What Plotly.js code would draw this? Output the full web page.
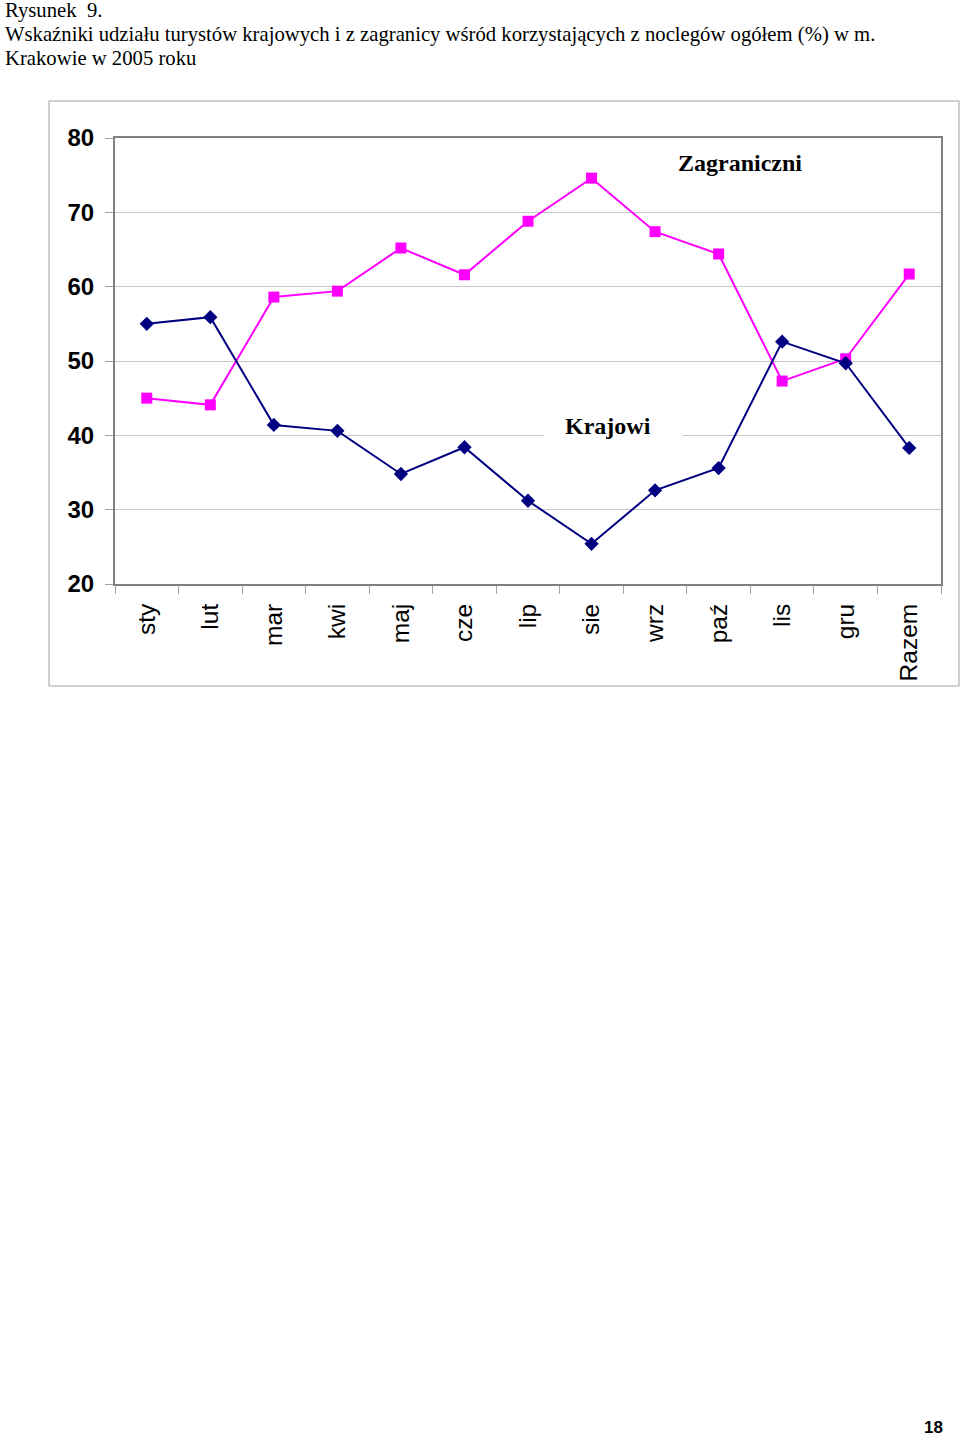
<!DOCTYPE html>
<html>
<head>
<meta charset="utf-8">
<script src="https://cdn.plot.ly/plotly-3.0.1.min.js"></script>
<style>html,body{margin:0;padding:0;background:#fff;}#chart{width:960px;height:1438px;}</style>
</head>
<body>
<div id="chart"></div>
<script>
const months = ["sty","lut","mar","kwi","maj","cze","lip","sie","wrz","paź","lis","gru","Razem"];
const krajowi = [55.0, 55.9, 41.4, 40.6, 34.8, 38.4, 31.2, 25.4, 32.6, 35.6, 52.6, 49.7, 38.3];
const zagraniczni = [45.0, 44.1, 58.6, 59.4, 65.2, 61.6, 68.8, 74.6, 67.4, 64.4, 47.3, 50.3, 61.7];
const yTicks = [20, 30, 40, 50, 60, 70, 80];
const titleLines = ["Rysunek  9.", "Wskaźniki udziału turystów krajowych i z zagranicy wśród korzystających z noclegów ogółem (%) w m.", "Krakowie w 2005 roku"];
const pageNumber = "18";

const L = 115, R = 941, T = 138, B = 584;
const W = R - L, H = B - T;
const px = x => (x - L) / W;
const py = y => (B - y) / H;

const traces = [
  {x: months, y: zagraniczni, type: "scatter", mode: "lines+markers", name: "Zagraniczni",
   line: {color: "#FF00FF", width: 2}, marker: {symbol: "square", size: 11, color: "#FF00FF"}},
  {x: months, y: krajowi, type: "scatter", mode: "lines+markers", name: "Krajowi",
   line: {color: "#000080", width: 2}, marker: {symbol: "diamond", size: 11, color: "#000080"}}
];

const titleY = [11, 34, 58];
const annotations = titleLines.map((t, i) => ({
  text: t, xref: "paper", yref: "paper", x: px(3), y: py(titleY[i]),
  xanchor: "left", yanchor: "middle", showarrow: false,
  font: {family: "Liberation Serif, Times New Roman, serif", size: 20.7, color: "#000"}
}));
annotations.push({text: "<b>Zagraniczni</b>", xref: "paper", yref: "paper", x: px(740), y: py(163),
  xanchor: "center", yanchor: "middle", showarrow: false,
  font: {family: "Liberation Serif, serif", size: 24, color: "#000"}});
annotations.push({text: "&nbsp;&nbsp;&nbsp;<b>Krajowi</b>&nbsp;&nbsp;&nbsp;&nbsp;&nbsp;", xref: "paper", yref: "paper", x: px(613), y: py(426),
  xanchor: "center", yanchor: "middle", showarrow: false, bgcolor: "#fff", borderpad: 2,
  font: {family: "Liberation Serif, serif", size: 24, color: "#000"}});
annotations.push({text: "<b>" + pageNumber + "</b>", xref: "paper", yref: "paper", x: px(933), y: py(1427),
  xanchor: "center", yanchor: "middle", showarrow: false,
  font: {family: "Liberation Sans, Arial, sans-serif", size: 17, color: "#000"}});

const layout = {
  width: 960, height: 1438,
  margin: {l: L, r: 960 - R, t: T, b: 1438 - B, pad: 0},
  paper_bgcolor: "#fff", plot_bgcolor: "#fff",
  showlegend: false,
  font: {family: "Liberation Sans, Arial, sans-serif", color: "#000"},
  xaxis: {
    type: "category", tickangle: -90, tickson: "boundaries",
    ticks: "outside", ticklen: 8, tickcolor: "#a0a0a0", tickwidth: 1,
    ticklabelstandoff: 8,
    showline: true, linecolor: "#808080", linewidth: 2, mirror: true,
    showgrid: false, tickfont: {size: 24.5, color: "#000"}, range: [-0.5, 12.5]
  },
  yaxis: {
    range: [20, 80], tickvals: yTicks, ticktext: yTicks.map(v => "<b>" + v + "</b>"),
    ticks: "outside", ticklen: 8, tickcolor: "#a0a0a0",
    ticklabelstandoff: 6,
    showline: true, linecolor: "#808080", linewidth: 2, mirror: true,
    showgrid: true, gridcolor: "#c8c8c8", gridwidth: 1, zeroline: false,
    tickfont: {size: 24, color: "#000"}
  },
  shapes: [{type: "rect", xref: "paper", yref: "paper",
    x0: px(49), x1: px(959), y0: py(686), y1: py(101),
    line: {color: "#a0a0a0", width: 1}, layer: "below"}],
  annotations: annotations
};

Plotly.newPlot("chart", traces, layout, {displayModeBar: false, staticPlot: true});
</script>
</body>
</html>
